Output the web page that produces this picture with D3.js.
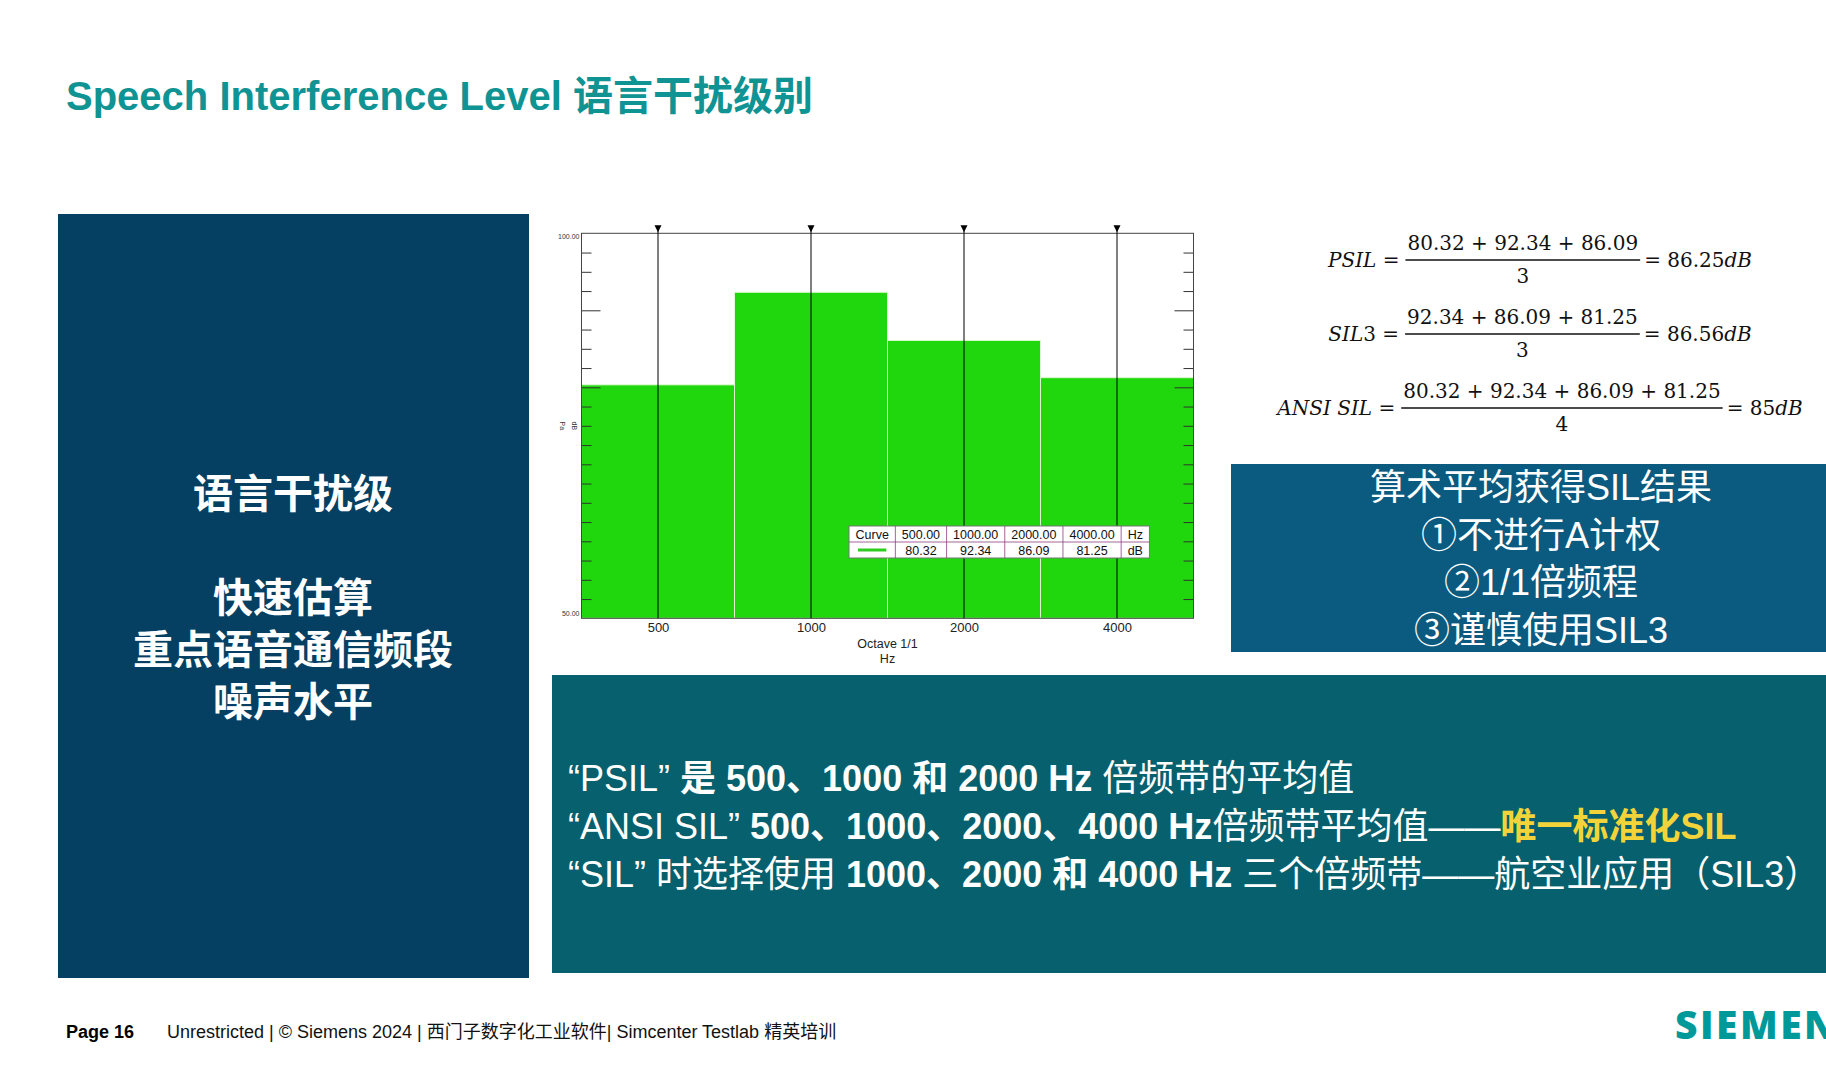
<!DOCTYPE html>
<html lang="zh">
<head>
<meta charset="utf-8" />
<style>
html, body { margin: 0; padding: 0; background: #fff; }
svg { display: block; }
text { white-space: pre; }
.sans { font-family: "Liberation Sans", Arial, "Noto Sans CJK SC", sans-serif; }
.math { font-family: "DejaVu Serif", "Liberation Serif", serif; font-size: 20px; fill: #111; }
.tick line { stroke: #333; }
.tick text { font-family: "Liberation Sans", Arial, sans-serif; fill: #222; }
</style>
</head>
<body>
<script src="https://cdn.jsdelivr.net/npm/d3@7"></script>
<script>
var bands = [500, 1000, 2000, 4000];
var levels = [80.32, 92.34, 86.09, 81.25];
var yDomain = [50, 100];
var minorTicks = [52.5, 55, 57.5, 60, 62.5, 65, 67.5, 70, 72.5, 75, 77.5, 82.5, 85, 87.5, 92.5, 95, 97.5];
var majorTicks = [80, 90];
var legendHead = ["Curve", "500.00", "1000.00", "2000.00", "4000.00", "Hz"];
var legendUnit = "dB";

var formulaNames = ["PSIL", "SIL3", "ANSI SIL"];
var formulaNums = ["80.32 + 92.34 + 86.09", "92.34 + 86.09 + 81.25", "80.32 + 92.34 + 86.09 + 81.25"];
var formulaDens = ["3", "3", "4"];
var formulaResults = ["86.25", "86.56", "85"];

var titleText = "Speech Interference Level 语言干扰级别";
var leftLines = ["语言干扰级", "", "快速估算", "重点语音通信频段", "噪声水平"];
var boxLines = ["算术平均获得SIL结果", "①不进行A计权", "②1/1倍频程", "③谨慎使用SIL3"];
// 0 = regular, 1 = bold, 2 = bold yellow
var noteLines = [
    [["“PSIL” ", 0], ["是 500、1000 和 2000 Hz ", 1], ["倍频带的平均值", 0]],
    [["“ANSI SIL” ", 0], ["500、1000、2000、4000 Hz", 1], ["倍频带平均值——", 0], ["唯一标准化SIL", 2]],
    [["“SIL” 时选择使用 ", 0], ["1000、2000 和 4000 Hz", 1], [" 三个倍频带——航空业应用（SIL3）", 0]]
];
var footerPage = "Page 16";
var footerText = "Unrestricted | © Siemens 2024 | 西门子数字化工业软件| Simcenter Testlab 精英培训";

var width = 1826, height = 1080;

var svg = d3.select("body").append("svg")
    .attr("width", width)
    .attr("height", height);

svg.append("rect").attr("width", width).attr("height", height).attr("fill", "#fff");

// title
svg.append("text")
    .attr("class", "sans")
    .attr("x", 66).attr("y", 110)
    .attr("font-size", 40).attr("font-weight", 700)
    .attr("fill", "#0f9393")
    .text(titleText);

// left panel
svg.append("rect").attr("x", 58).attr("y", 214).attr("width", 471).attr("height", 764).attr("fill", "#053f62");
svg.append("g").selectAll("text")
    .data(leftLines)
  .enter().append("text")
    .attr("class", "sans")
    .attr("x", 293).attr("y", function (d, i) { return 508 + i * 52; })
    .attr("text-anchor", "middle")
    .attr("font-size", 40).attr("font-weight", 700)
    .attr("fill", "#fff")
    .text(function (d) { return d; });

// ---- octave band chart ----
var plot = { left: 581.5, right: 1193.5, top: 233.3, bottom: 618.3 };

var x = d3.scaleLog()
    .domain([bands[0] / Math.SQRT2, bands[bands.length - 1] * Math.SQRT2])
    .range([plot.left, plot.right]);
var y = d3.scaleLinear().domain(yDomain).range([plot.bottom, plot.top]);

var chart = svg.append("g");

chart.selectAll(".bar")
    .data(bands)
  .enter().append("rect")
    .attr("class", "bar")
    .attr("x", function (d) { return x(d / Math.SQRT2); })
    .attr("width", function (d) { return x(d * Math.SQRT2) - x(d / Math.SQRT2); })
    .attr("y", function (d, i) { return y(levels[i]); })
    .attr("height", function (d, i) { return y(yDomain[0]) - y(levels[i]); })
    .attr("fill", "#1fd70c")
    .attr("stroke", "#dcfbd2")
    .attr("stroke-width", 1);

function yAxis(side, ticks, len) {
    var ax = (side === "left" ? d3.axisLeft(y) : d3.axisRight(y))
        .tickValues(ticks).tickSize(-len).tickFormat("");
    var g = chart.append("g")
        .attr("transform", "translate(" + (side === "left" ? plot.left : plot.right) + ",0)")
        .call(ax);
    g.select(".domain").remove();
}
yAxis("left", minorTicks, 10);
yAxis("left", majorTicks, 19);
yAxis("right", minorTicks, 10);
yAxis("right", majorTicks, 19);

chart.append("rect")
    .attr("x", plot.left).attr("y", plot.top)
    .attr("width", plot.right - plot.left).attr("height", plot.bottom - plot.top)
    .attr("fill", "none").attr("stroke", "#444").attr("stroke-width", 1);

// cursors at band centres
chart.selectAll(".cursor")
    .data(bands)
  .enter().append("line")
    .attr("x1", function (d) { return x(d); }).attr("x2", function (d) { return x(d); })
    .attr("y1", plot.top - 7).attr("y2", plot.bottom)
    .attr("stroke", "#000").attr("stroke-width", 1);
chart.selectAll(".marker")
    .data(bands)
  .enter().append("path")
    .attr("d", function (d) {
        var cx = x(d);
        return "M" + (cx - 3.5) + "," + (plot.top - 8) + "L" + (cx + 3.5) + "," + (plot.top - 8) + "L" + cx + "," + (plot.top - 1) + "Z";
    })
    .attr("fill", "#000");

var xAxisG = chart.append("g")
    .attr("transform", "translate(0," + plot.bottom + ")")
    .call(d3.axisBottom(x).tickValues(bands).tickSize(0).tickPadding(4).tickFormat(d3.format("d")));
xAxisG.select(".domain").remove();
xAxisG.selectAll("text").attr("font-size", 13);

var midX = (plot.left + plot.right) / 2;
chart.append("text").attr("class", "sans").attr("x", midX).attr("y", 647.5)
    .attr("text-anchor", "middle").attr("font-size", 12.5).attr("fill", "#222").text("Octave 1/1");
chart.append("text").attr("class", "sans").attr("x", midX).attr("y", 663)
    .attr("text-anchor", "middle").attr("font-size", 12.5).attr("fill", "#222").text("Hz");

chart.selectAll(".ylab")
    .data(yDomain)
  .enter().append("text")
    .attr("class", "sans")
    .attr("x", plot.left - 2)
    .attr("y", function (d) { return y(d) + (d === yDomain[1] ? 6 : -2); })
    .attr("text-anchor", "end").attr("font-size", 7).attr("fill", "#333")
    .text(function (d) { return d3.format(".2f")(d); });

chart.selectAll(".unit")
    .data(["Pa", "dB"])
  .enter().append("text")
    .attr("class", "sans")
    .attr("transform", function (d, i) {
        return "translate(" + (560 + i * 12) + "," + y(75) + ") rotate(90)";
    })
    .attr("text-anchor", "middle").attr("font-size", 7).attr("fill", "#333")
    .text(function (d) { return d; });

// legend table
var legend = chart.append("g").attr("class", "sans").attr("font-size", 12.5).attr("fill", "#111");
var legLeft = 849, legTop = 526, rowH = 16, pad = 13;
var probe = legend.append("text");
var colW = legendHead.map(function (t) { probe.text(t); return probe.node().getComputedTextLength() + pad; });
probe.remove();
var colX = [legLeft];
colW.forEach(function (w, i) { colX.push(colX[i] + w); });
var legW = colX[colX.length - 1] - legLeft;

legend.append("rect").attr("x", legLeft).attr("y", legTop).attr("width", legW).attr("height", rowH * 2)
    .attr("fill", "#fff").attr("stroke", "#777");
legend.selectAll(".vsep")
    .data(colX.slice(1, -1))
  .enter().append("line")
    .attr("x1", function (d) { return d; }).attr("x2", function (d) { return d; })
    .attr("y1", legTop).attr("y2", legTop + rowH * 2)
    .attr("stroke", "#8a3f82").attr("stroke-width", 0.8);
legend.append("line").attr("x1", legLeft).attr("x2", legLeft + legW)
    .attr("y1", legTop + rowH).attr("y2", legTop + rowH)
    .attr("stroke", "#8a3f82").attr("stroke-width", 0.8);

var rowVals = [""].concat(levels.map(d3.format(".2f"))).concat([legendUnit]);
[legendHead, rowVals].forEach(function (row, r) {
    legend.selectAll(".r" + r)
        .data(row)
      .enter().append("text")
        .attr("x", function (d, i) { return (colX[i] + colX[i + 1]) / 2; })
        .attr("y", legTop + r * rowH + 12.5)
        .attr("text-anchor", "middle")
        .text(function (d) { return d; });
});
legend.append("line")
    .attr("x1", colX[0] + 9).attr("x2", colX[1] - 9)
    .attr("y1", legTop + rowH * 1.5).attr("y2", legTop + rowH * 1.5)
    .attr("stroke", "#2ecc1f").attr("stroke-width", 3);

// ---- formulas ----
function italicRuns(sel, str) {
    str.split(/(\d+)/).forEach(function (part) {
        if (!part) return;
        sel.append("tspan").attr("font-style", /\d/.test(part) ? "normal" : "italic").text(part);
    });
}
formulaNames.forEach(function (name, i) {
    var barY = 260 + i * 74;
    var g = svg.append("g").attr("class", "math");
    var lab = g.append("text").attr("x", 0).attr("y", barY + 7);
    italicRuns(lab, name);
    lab.append("tspan").text(" =");
    var labW = lab.node().getComputedTextLength();
    var num = g.append("text").attr("y", barY - 10).attr("text-anchor", "middle").text(formulaNums[i]);
    var numW = num.node().getComputedTextLength();
    var x0 = labW + 6, barW = numW + 4;
    num.attr("x", x0 + barW / 2);
    g.append("line").attr("x1", x0).attr("x2", x0 + barW).attr("y1", barY).attr("y2", barY)
        .attr("stroke", "#111").attr("stroke-width", 1.3);
    g.append("text").attr("x", x0 + barW / 2).attr("y", barY + 23).attr("text-anchor", "middle").text(formulaDens[i]);
    var res = g.append("text").attr("x", x0 + barW + 4).attr("y", barY + 7);
    res.append("tspan").text("= " + formulaResults[i]);
    res.append("tspan").attr("font-style", "italic").text("dB");
    var total = x0 + barW + 4 + res.node().getComputedTextLength();
    g.attr("transform", "translate(" + (1540 - total / 2) + ",0)");
});

// right summary box
svg.append("rect").attr("x", 1231).attr("y", 464).attr("width", 595).attr("height", 188).attr("fill", "#0b5a7f");
svg.append("g").selectAll("text")
    .data(boxLines)
  .enter().append("text")
    .attr("class", "sans")
    .attr("x", 1541).attr("y", function (d, i) { return 500 + i * 47.5; })
    .attr("text-anchor", "middle").attr("font-size", 36).attr("fill", "#fff")
    .text(function (d) { return d; });

// bottom notes panel
svg.append("rect").attr("x", 552).attr("y", 675).attr("width", 1274).attr("height", 298).attr("fill", "#07606d");
noteLines.forEach(function (line, i) {
    var t = svg.append("text").attr("class", "sans")
        .attr("x", 568).attr("y", 791 + i * 48)
        .attr("font-size", 36).attr("fill", "#fff");
    line.forEach(function (seg) {
        t.append("tspan")
            .attr("font-weight", seg[1] ? 700 : 400)
            .attr("fill", seg[1] === 2 ? "#f2d43a" : "#fff")
            .text(seg[0]);
    });
});

// footer
svg.append("text").attr("class", "sans").attr("x", 66).attr("y", 1038)
    .attr("font-size", 18).attr("font-weight", 700).attr("fill", "#000").text(footerPage);
svg.append("text").attr("class", "sans").attr("x", 167).attr("y", 1038)
    .attr("font-size", 18).attr("fill", "#111").text(footerText);
svg.append("text")
    .attr("x", 1675).attr("y", 1039)
    .attr("font-family", "'Open Sans', 'Liberation Sans', sans-serif")
    .attr("font-size", 39).attr("font-weight", 800).attr("letter-spacing", 2.5)
    .attr("fill", "#009999")
    .text("SIEMENS");
</script>
</body>
</html>
